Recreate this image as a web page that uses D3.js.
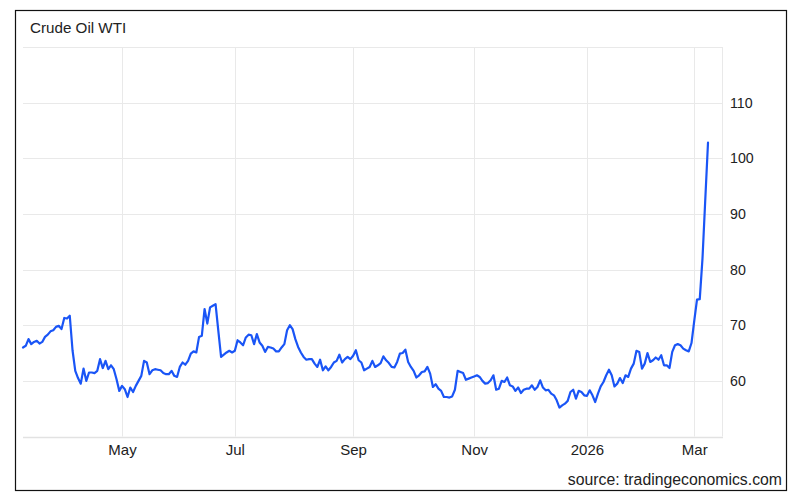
<!DOCTYPE html>
<html>
<head>
<meta charset="utf-8">
<script src="https://cdn.jsdelivr.net/npm/d3@7"></script>
<style>
  html, body { margin: 0; padding: 0; background: #fff; }
  svg { display: block; }
  text { font-family: "Liberation Sans", Arial, Helvetica, sans-serif; fill: #222; }
</style>
</head>
<body>
<svg id="chart" width="800" height="500"></svg>
<script>
// ---- data ----
const title = "Crude Oil WTI";
const sourceText = "source: tradingeconomics.com";
const startDate = "2025-03-11";
const endDate = "2026-03-09";
const holidays = ["2025-04-18","2025-05-26","2025-06-19","2025-07-04","2025-09-01",
                  "2025-11-27","2025-12-25","2026-01-01","2026-01-19","2026-02-16"];
// daily closes (one per trading session)
const prices = [
  66.0, 66.3, 67.5, 66.6, 67.0, 67.2, 66.7, 67.0, 67.9, 68.3,
  68.9, 69.1, 69.7, 69.9, 69.3, 71.3, 71.2, 71.7, 65.5, 61.8,
  60.5, 59.5, 62.2, 60.0, 61.5, 61.5, 61.4, 61.8, 63.9, 62.3,
  63.6, 62.1, 62.8, 62.1, 60.3, 58.2, 59.1, 58.5, 57.1, 58.8,
  58.0, 59.1, 60.0, 60.9, 63.6, 63.3, 61.2, 61.9, 62.1, 62.0,
  61.9, 61.4, 61.2, 61.2, 61.8, 60.9, 60.7, 62.5, 63.3, 62.9,
  63.6, 64.9, 65.3, 65.1, 67.9, 68.1, 72.9, 70.3, 73.2, 73.5,
  73.8, 69.0, 64.3, 64.7, 65.1, 65.4, 65.1, 65.4, 67.3, 66.9,
  66.4, 67.8, 68.3, 68.2, 66.6, 68.4, 66.9, 66.3, 65.2, 66.1,
  66.0, 65.8, 65.3, 65.3, 66.0, 66.6, 69.1, 70.0, 69.3, 67.5,
  66.1, 65.1, 64.3, 63.8, 63.9, 63.9, 63.1, 62.5, 63.8, 61.9,
  62.6, 61.9, 62.5, 63.3, 63.6, 64.7, 63.3, 63.9, 64.3, 63.9,
  64.5, 65.5, 63.7, 63.3, 61.9, 62.2, 62.5, 63.6, 62.5, 62.8,
  63.2, 64.4, 63.7, 63.2, 62.5, 62.4, 63.4, 64.9, 65.0, 65.6,
  63.4, 62.5, 61.8, 60.6, 61.0, 61.6, 61.7, 62.5, 61.3, 58.9,
  59.4, 58.6, 58.2, 57.1, 57.1, 57.0, 57.2, 58.4, 61.8, 61.6,
  61.4, 60.2, 60.4, 60.6, 60.8, 61.0, 60.7, 60.0, 59.5, 59.6,
  60.1, 61.0, 58.4, 58.6, 60.0, 59.8, 60.6, 59.2, 59.0, 58.2,
  58.8, 57.8, 58.4, 58.6, 58.6, 59.2, 58.4, 58.9, 60.1, 58.8,
  58.3, 58.4, 57.7, 57.4, 56.5, 55.2, 55.6, 55.9, 56.4, 58.0,
  58.4, 56.8, 58.2, 58.0, 57.4, 57.3, 58.3, 57.4, 56.2, 57.7,
  59.0, 59.8, 61.0, 62.0, 61.0, 59.0, 59.5, 60.5, 59.6, 61.0,
  60.7, 62.2, 63.1, 65.4, 65.2, 62.2, 63.1, 65.0, 63.4, 63.7,
  64.2, 63.8, 64.6, 62.8, 62.8, 62.3, 65.2, 66.4, 66.6, 66.4,
  65.8, 65.5, 65.3, 66.8, 70.8, 74.6, 74.7, 82.0, 92.5, 102.8
];
const xTickMonths = ["2025-05", "2025-07", "2025-09", "2025-11", "2026-01", "2026-03"];
const xTickLabels = ["May", "Jul", "Sep", "Nov", "2026", "Mar"];
const yTicks = [60, 70, 80, 90, 100, 110];
const yGrid = [60, 70, 80, 90, 100, 110, 120];

// ---- trading calendar ----
const fmt = d3.utcFormat("%Y-%m-%d");
const parse = d3.utcParse("%Y-%m-%d");
const holidaySet = new Set(holidays);
const dates = d3.utcDay.range(parse(startDate), d3.utcDay.offset(parse(endDate), 1))
  .filter(d => d.getUTCDay() !== 0 && d.getUTCDay() !== 6 && !holidaySet.has(fmt(d)))
  .map(fmt);
const data = dates.map((d, i) => ({ date: d, value: prices[i] })).filter(d => d.value != null);

// ---- layout ----
const svg = d3.select("#chart");
const plotLeft = 23, plotRight = 722, plotTop = 47, plotBottom = 436.5;

const x = d3.scalePoint().domain(dates).range([23, 708]);
const y = d3.scaleLinear().domain([50, 120]).range([plotBottom, plotTop]);

// outer frame
svg.append("rect")
  .attr("x", 15.5).attr("y", 10.5).attr("width", 771).attr("height", 480)
  .attr("fill", "#fff").attr("stroke", "#111").attr("stroke-width", 1.2);

// title
svg.append("text").attr("x", 30).attr("y", 33)
  .attr("font-size", 15.2).attr("fill", "#333").text(title);

const tickDates = xTickMonths.map(m => dates.find(d => d.startsWith(m)));

// grid
const grid = svg.append("g").attr("stroke", "#e9e9e9").attr("stroke-width", 1).attr("fill", "none");
grid.selectAll("line.h").data(yGrid).join("line")
  .attr("x1", plotLeft).attr("x2", plotRight)
  .attr("y1", d => Math.round(y(d)) + 0.5).attr("y2", d => Math.round(y(d)) + 0.5);
grid.selectAll("line.v").data(tickDates).join("line")
  .attr("x1", d => Math.round(x(d)) + 0.5).attr("x2", d => Math.round(x(d)) + 0.5)
  .attr("y1", plotTop).attr("y2", plotBottom);
grid.append("line").attr("x1", plotRight + 0.5).attr("x2", plotRight + 0.5)
  .attr("y1", plotTop).attr("y2", plotBottom);
// bottom baseline
svg.append("line").attr("x1", plotLeft).attr("x2", plotRight + 1)
  .attr("y1", Math.round(plotBottom) + 0.5).attr("y2", Math.round(plotBottom) + 0.5)
  .attr("stroke", "#e2e2e2").attr("stroke-width", 1.5);

// y axis (right)
const yAxis = svg.append("g").attr("transform", `translate(${plotRight},0)`)
  .call(d3.axisRight(y).tickValues(yTicks).tickSize(0).tickPadding(8).tickFormat(d3.format("d")));
yAxis.select(".domain").remove();
yAxis.selectAll("text").attr("font-size", 14.2).attr("fill", "#222")
  .style("font-family", '"Liberation Sans", Arial, sans-serif');

// x axis
const xAxis = svg.append("g").attr("transform", `translate(0,${plotBottom})`)
  .call(d3.axisBottom(x).tickValues(tickDates).tickSize(0).tickPadding(8)
    .tickFormat((d, i) => xTickLabels[i]));
xAxis.select(".domain").remove();
xAxis.selectAll("text").attr("font-size", 15).attr("fill", "#222")
  .style("font-family", '"Liberation Sans", Arial, sans-serif');

// line
const line = d3.line().x(d => x(d.date)).y(d => y(d.value));
svg.append("path").datum(data)
  .attr("d", line)
  .attr("fill", "none")
  .attr("stroke", "#1a55f6")
  .attr("stroke-width", 2.2)
  .attr("stroke-linejoin", "round")
  .attr("stroke-linecap", "round");

// source
svg.append("text").attr("x", 782).attr("y", 485).attr("text-anchor", "end")
  .attr("font-size", 15.8).attr("fill", "#333").text(sourceText);
</script>
</body>
</html>
